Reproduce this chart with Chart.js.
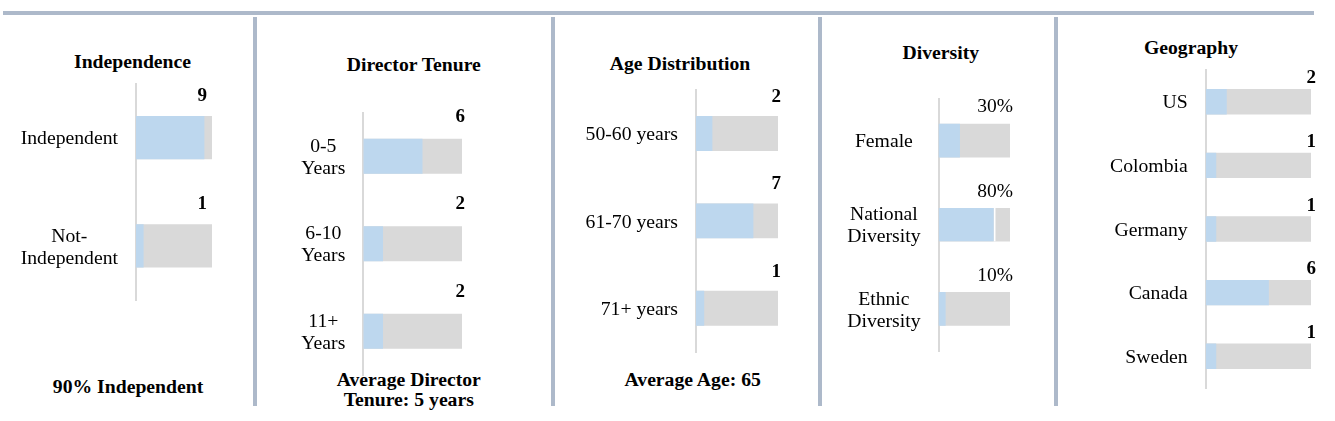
<!DOCTYPE html>
<html><head><meta charset="utf-8">
<script src="https://cdn.jsdelivr.net/npm/chart.js@4.4.1/dist/chart.umd.min.js"></script>
<style>
html,body{margin:0;padding:0;background:#fff;}
#wrap{position:relative;width:1335px;height:421px;overflow:hidden;font-family:"Liberation Serif","Times New Roman",serif;color:#000;}
.rule{position:absolute;background:#adb9ca;}
.txt{position:absolute;white-space:nowrap;transform:translateX(-50%);font-size:19.7px;line-height:19.7px;font-weight:bold;}
canvas{position:absolute;top:0;}
</style></head><body><div id="wrap"></div>
<script>
// ---- data ----
const independenceCategories = ['Independent', ['Not-', 'Independent']];
const independenceValues = [9, 1];
const independenceTotals = [10, 10];

const tenureCategories = [['0-5', 'Years'], ['6-10', 'Years'], ['11+', 'Years']];
const tenureValues = [6, 2, 2];
const tenureTotals = [10, 10, 10];

const ageCategories = ['50-60 years', '61-70 years', '71+ years'];
const ageValues = [2, 7, 1];
const ageTotals = [10, 10, 10];

const diversityCategories = ['Female', ['National', 'Diversity'], ['Ethnic', 'Diversity']];
const diversityValues = [30, 80, 10];
const diversityTotals = [100, 100, 100];

const geographyCategories = ['US', 'Colombia', 'Germany', 'Canada', 'Sweden'];
const geographyValues = [2, 1, 1, 6, 1];
const geographyTotals = [10, 10, 10, 10, 10];

const panelTitles = ['Independence', 'Director Tenure', 'Age Distribution', 'Diversity', 'Geography'];
const panelFooters = [['90% Independent'], ['Average Director', 'Tenure: 5 years'], ['Average Age: 65'], [], []];

// ---- layout / style ----
const H = 421;
const FS = 19.7;
const panels = [
  {cats: independenceCategories, vals: independenceValues, tots: independenceTotals, max: 10, suffix: '', bold: true,
   left: 0, width: 252, axisX: 136, endX: 212, top: 83.5, bottom: 300, cross: 'center', dx: -5, dy: 20,
   titleX: 132.5, titleBase: 68, footX: 128, footBase: [393]},
  {cats: tenureCategories, vals: tenureValues, tots: tenureTotals, max: 10, suffix: '', bold: true,
   left: 258, width: 292, axisX: 363.3, endX: 462, top: 112.5, bottom: 375, cross: 'center', dx: 3, dy: 22,
   titleX: 413.8, titleBase: 71.7, footX: 408.8, footBase: [386.3, 406.3]},
  {cats: ageCategories, vals: ageValues, tots: ageTotals, max: 10, suffix: '', bold: true,
   left: 556, width: 261, axisX: 696, endX: 778, top: 89.75, bottom: 352, cross: 'near', dx: 3, dy: 19,
   titleX: 680, titleBase: 70, footX: 692.7, footBase: [386.3]},
  {cats: diversityCategories, vals: diversityValues, tots: diversityTotals, max: 100, suffix: '%', bold: false,
   left: 823, width: 230, axisX: 938.5, endX: 1010, top: 98.5, bottom: 351, cross: 'center', dx: 3, dy: 16.5,
   titleX: 940.8, titleBase: 59.7, footX: 940, footBase: [], sep: [0, {right: 2}, 0]},
  {cats: geographyCategories, vals: geographyValues, tots: geographyTotals, max: 10, suffix: '', bold: true,
   left: 1059, width: 276, axisX: 1205.7, endX: 1311, top: 70, bottom: 388, cross: 'near', dx: 5, dy: 10.5,
   titleX: 1191, titleBase: 54.7, footX: 1191, footBase: []}
];

const wrap = document.getElementById('wrap');
function addRule(x, y, w, h) {
  const d = document.createElement('div');
  d.className = 'rule';
  d.style.left = x + 'px'; d.style.top = y + 'px'; d.style.width = w + 'px'; d.style.height = h + 'px';
  wrap.appendChild(d);
}
function addText(txt, cx, base) {
  const d = document.createElement('div');
  d.className = 'txt';
  d.textContent = txt;
  d.style.left = cx + 'px';
  d.style.top = (base - 0.8375 * FS) + 'px';
  wrap.appendChild(d);
}
addRule(3, 11, 1311, 4);
[253, 551, 818, 1054].forEach(x => addRule(x, 17, 4, 389));

panels.forEach((p, k) => {
  addText(panelTitles[k], p.titleX, p.titleBase);
  panelFooters[k].forEach((t, j) => addText(t, p.footX, p.footBase[j]));

  const c = document.createElement('canvas');
  c.width = p.width; c.height = H;
  c.style.left = p.left + 'px';
  c.style.width = p.width + 'px'; c.style.height = H + 'px';
  wrap.appendChild(c);

  const labelPlugin = {
    id: 'valueLabels' + k,
    afterDatasetsDraw(chart) {
      const ctx = chart.ctx;
      const meta = chart.getDatasetMeta(0);
      const xs = chart.scales.x;
      ctx.save();
      ctx.font = (p.bold ? 'bold 19px' : '19.5px') + ' "Liberation Serif", serif';
      ctx.fillStyle = '#000';
      ctx.textAlign = 'right';
      ctx.textBaseline = 'middle';
      p.vals.forEach((v, i) => {
        const el = meta.data[i];
        const top = el.y - el.height / 2;
        ctx.fillText(v + p.suffix, xs.getPixelForValue(p.tots[i]) + p.dx, top - p.dy);
      });
      ctx.restore();
    }
  };

  new Chart(c, {
    type: 'bar',
    data: {
      labels: p.cats,
      datasets: [
        {data: p.vals, backgroundColor: '#BDD7EE', borderColor: '#ffffff', borderWidth: p.sep || 0, borderSkipped: 'start'},
        {data: p.tots, backgroundColor: '#D9D9D9', borderWidth: 0}
      ]
    },
    options: {
      indexAxis: 'y',
      responsive: false,
      maintainAspectRatio: false,
      animation: false,
      layout: {padding: {left: 0, right: p.width - (p.endX - p.left), top: p.top, bottom: H - p.bottom}},
      datasets: {bar: {grouped: false, barPercentage: 0.4, categoryPercentage: 1}},
      plugins: {legend: {display: false}, tooltip: {enabled: false}, title: {display: false}},
      scales: {
        x: {display: false, min: 0, max: p.max},
        y: {
          position: 'left', z: 1,
          grid: {display: false},
          border: {display: true, color: '#d9d9d9', width: 2},
          ticks: {crossAlign: p.cross, padding: 10, color: '#000', labelOffset: 1.5,
                  font: {family: '"Liberation Serif", serif', size: FS, lineHeight: 1.12}},
          afterFit: (s) => { s.width = p.axisX - p.left; }
        }
      }
    },
    plugins: [labelPlugin]
  });
});
</script>
</body></html>
